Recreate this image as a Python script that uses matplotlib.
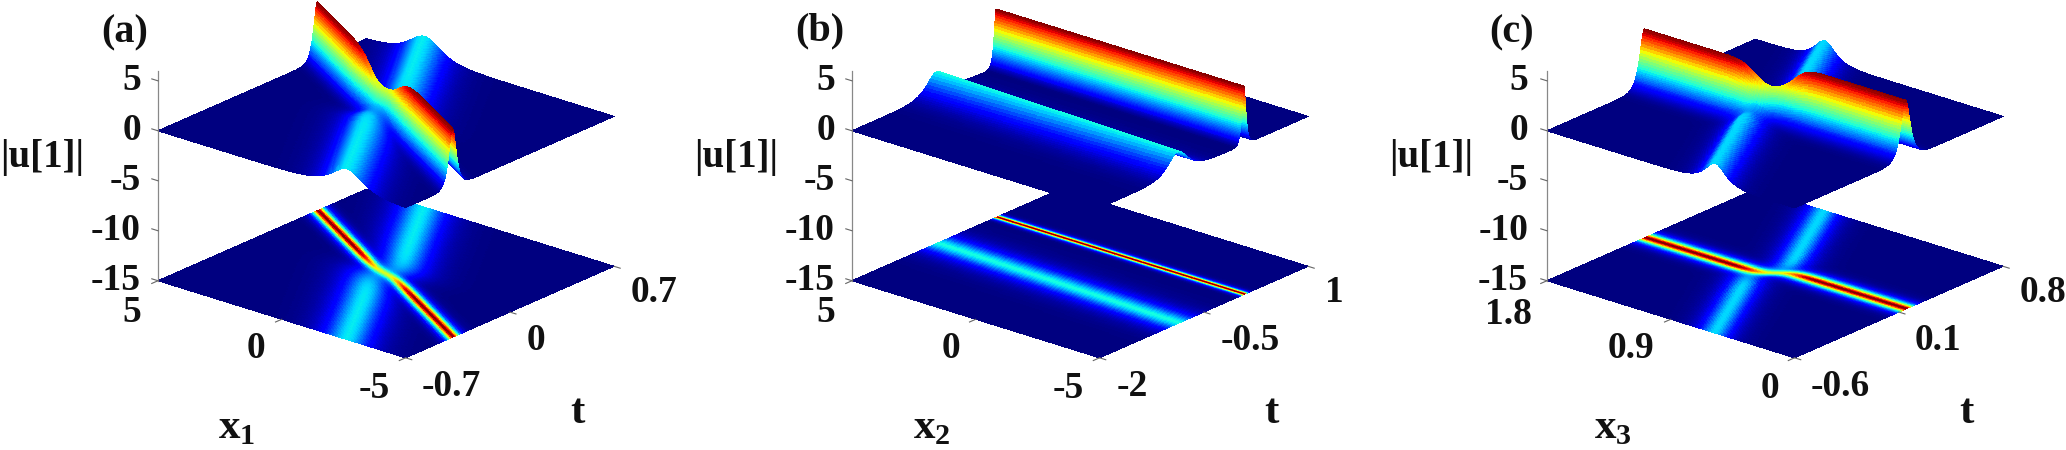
import numpy as np
import matplotlib
matplotlib.use("Agg")
import matplotlib.pyplot as plt
from mpl_toolkits.mplot3d import proj3d

plt.rcParams['font.family'] = ['Liberation Serif', 'DejaVu Serif']
plt.rcParams['font.weight'] = 'bold'
plt.rcParams['mathtext.fontset'] = 'custom'
plt.rcParams['mathtext.bf'] = 'Liberation Serif:bold'
plt.rcParams['mathtext.rm'] = 'Liberation Serif:bold'

W, H = 2066, 450

# ---- values ----
panel_letters = ['(a)', '(b)', '(c)']
x_names = ['x', 'x', 'x']
x_subs = ['1', '2', '3']
x_ranges = [(-5, 5), (-5, 5), (0, 1.8)]
t_ranges = [(-0.7, 0.7), (-2, 1), (-0.6, 0.8)]
x_ticks = [[5, 0, -5], [5, 0, -5], [1.8, 0.9, 0]]
x_ticklabels = [['5', '0', '-5'], ['5', '0', '-5'], ['1.8', '0.9', '0']]
t_ticks = [[-0.7, 0, 0.7], [-2, -0.5, 1], [-0.6, 0.1, 0.8]]
t_ticklabels = [['-0.7', '0', '0.7'], ['-2', '-0.5', '1'], ['-0.6', '0.1', '0.8']]
z_ticks = [5, 0, -5, -10, -15]
z_ticklabels = ['5', '0', '-5', '-10', '-15']
z_limits = (-15, 6)

# tall ridge across x: amplitude, t-position at mid x, slope, step, step width, width, dip, dip width
tall_amp = [5.9, 5.85, 5.9]
tall_pos = [0.495, 0.692, 0.5]
tall_slope = [0.57, 0.0, 0.0]
tall_step = [-0.015, 0.0, -0.032]
tall_step_w = [0.05, 0.05, 0.04]
tall_width = [0.016, 0.0085, 0.02]
tall_dip = [0.43, 0.0, 0.41]
tall_dip_w = [0.11, 0.08, 0.07]

# lower ridge: amplitude, position at mid range, slope, step, step width, width (panel b runs across x)
low_amp = [2.1, 2.2, 2.0]
low_pos = [0.50, 0.39, 0.52]
low_slope = [0.62, 0.03, 0.52]
low_step = [-0.045, 0.0, -0.06]
low_step_w = [0.05, 0.05, 0.04]
low_width = [0.055, 0.04, 0.036]
low_dip = [0.35, 0.0, 0.35]
low_across_x = [False, True, False]

grid_x = [140, 30, 140]
grid_t = [260, 260, 260]

# ---- pixel layout ----
corner_L = [(158, 281), (852, 281), (1547, 281)]
corner_R = [(614, 266), (1308, 266), (2003, 266)]
letter_xy = [(125, 33), (820, 31), (1512, 33)]
ztick_right = [141, 835, 1528]
ylabel_xy = [(42, 157), (736, 157), (1431, 157)]
xtick_xy = [[(132, 312), (256, 348), (374, 388)],
            [(826, 312), (951, 348), (1068, 388)],
            [(1508, 315), (1631, 348), (1770, 388)]]
ttick_xy = [[(451, 386), (536, 340), (654, 293)],
            [(1132, 386), (1250, 340), (1334, 293)],
            [(1840, 386), (1938, 340), (2043, 293)]]
xlabel_xy = [(237, 428), (932, 428), (1613, 428)]
tlabel_xy = [(577, 413), (1271, 413), (1966, 413)]
TICK_FS = 27
LABEL_FS = 28
LETTER_FS = 29
ELEV, AZIM = 21.7, -49.9
BOX = (1, 1, 0.698)


def sech(v):
    return 1.0 / np.cosh(np.clip(v, -40, 40))


def tall_centre(i, xf):
    mid = xf - 0.5
    return tall_pos[i] + tall_slope[i] * mid + tall_step[i] * np.tanh(mid / tall_step_w[i])


def height(i, xf, tf):
    mid = xf - 0.5
    centre = tall_centre(i, xf)
    crossing = np.exp(-(mid / tall_dip_w[i]) ** 2)
    tall = tall_amp[i] * sech((tf - centre) / tall_width[i]) * (1 - tall_dip[i] * crossing)
    if low_across_x[i]:
        low_c = low_pos[i] + low_slope[i] * mid
        low = low_amp[i] * sech((tf - low_c) / low_width[i])
    else:
        tm = tf - 0.5
        low_c = low_pos[i] + low_slope[i] * tm + low_step[i] * np.tanh(tm / low_step_w[i])
        gap = np.exp(-((tf - centre) / 0.08) ** 2)
        low = low_amp[i] * sech((xf - low_c) / low_width[i]) * (1 - low_dip[i] * gap)
    return np.sqrt(tall ** 2 + low ** 2)


def mesh(i):
    """Sampling grid packed around the steep tall ridge, so its colours stay smooth."""
    xf = np.linspace(0, 1, grid_x[i])
    s = np.linspace(0, 1, grid_t[i])
    half = 5 * tall_width[i]
    TF = np.empty((s.size, xf.size))
    for j, v in enumerate(xf):
        c = tall_centre(i, v)
        TF[:, j] = np.interp(s, [0, 0.3, 0.7, 1], [0, c - half, c + half, 1])
    XF = np.tile(xf, (s.size, 1))
    return XF, TF


def fit_axes(ax, i):
    """Move the 3D axes so that the bottom plane corners land on the measured pixels."""
    xr, tr = x_ranges[i], t_ranges[i]
    for _ in range(3):
        ax.apply_aspect()
        M = ax.get_proj()
        px, py, _z = proj3d.proj_transform(np.array([xr[1], xr[0]], float),
                                           np.array([tr[0], tr[1]], float),
                                           np.array([z_limits[0]] * 2, float), M)
        d = ax.transData.transform(np.column_stack([px, py]))
        tL = np.array([corner_L[i][0], H - corner_L[i][1]], float)
        tR = np.array([corner_R[i][0], H - corner_R[i][1]], float)
        scale = np.linalg.norm(tR - tL) / np.linalg.norm(d[1] - d[0])
        pos = ax.get_position()
        side = pos.width * W * scale
        ctr = np.array([(pos.x0 + pos.width / 2) * W, (pos.y0 + pos.height / 2) * H])
        new_ctr = ctr + ((tL + tR) / 2 - (d[0] + d[1]) / 2) + ((d[0] + d[1]) / 2 - ctr) * (1 - scale)
        ax.set_position([(new_ctr[0] - side / 2) / W, (new_ctr[1] - side / 2) / H,
                         side / W, side / H])


def put(x, y, s, fs, ha='center', va='center'):
    fig.text(x / W, 1 - y / H, s, fontsize=fs, fontweight='bold', ha=ha, va=va, color='#111111')


fig = plt.figure(figsize=(W / 100, H / 100), dpi=100, facecolor='white')
cmap = plt.get_cmap('jet')

for i in range(3):
    side = 700
    cx = (corner_L[i][0] + corner_R[i][0]) / 2
    ax = fig.add_axes([(cx - side / 2) / W, 0.5 - side / 2 / H, side / W, side / H],
                      projection='3d', computed_zorder=False)
    ax.set_proj_type('ortho')
    ax.view_init(elev=ELEV, azim=AZIM)
    ax.set_box_aspect(BOX)
    xr, tr = x_ranges[i], t_ranges[i]
    ax.set_xlim(xr[1], xr[0])
    ax.set_ylim(tr[0], tr[1])
    ax.set_zlim(*z_limits)
    ax.set_axis_off()

    XF, TF = mesh(i)
    U = height(i, XF, TF)
    X = xr[0] + XF * (xr[1] - xr[0])
    T = tr[0] + TF * (tr[1] - tr[0])
    colours = cmap(U / U.max())

    floor = ax.plot_surface(X, T, np.full_like(U, z_limits[0]), facecolors=colours,
                            rcount=U.shape[0], ccount=U.shape[1], shade=False,
                            linewidth=0, antialiased=False, zorder=1)
    top = ax.plot_surface(X, T, U, facecolors=colours,
                          rcount=U.shape[0], ccount=U.shape[1], shade=False,
                          linewidth=0, antialiased=False, zorder=2)
    floor.set_clip_on(False)
    top.set_clip_on(False)

    # z axis line and short ticks
    dx = (xr[1] - xr[0]) * 0.025
    dt = (tr[1] - tr[0]) * 0.03
    ax.plot([xr[1], xr[1]], [tr[0], tr[0]], z_limits, color='#888888', lw=0.9, zorder=3)
    for z in z_ticks:
        ax.plot([xr[1], xr[1] + dx], [tr[0], tr[0]], [z, z], color='#666666', lw=0.8, zorder=3)
    for v in x_ticks[i]:
        ax.plot([v, v], [tr[0], tr[0] - dt], [z_limits[0]] * 2, color='#666666', lw=0.8, zorder=3)
    for v in t_ticks[i]:
        ax.plot([xr[0], xr[0] - dx], [v, v], [z_limits[0]] * 2, color='#666666', lw=0.8, zorder=3)

    fit_axes(ax, i)

    put(*letter_xy[i], panel_letters[i], LETTER_FS)
    for z, s in zip(z_ticks, z_ticklabels):
        put(ztick_right[i], 131 - 10 * z, s, TICK_FS, ha='right')
    put(*ylabel_xy[i], '|u[1]|', LABEL_FS)
    for (px, py), s in zip(xtick_xy[i], x_ticklabels[i]):
        put(px, py, s, TICK_FS)
    for (px, py), s in zip(ttick_xy[i], t_ticklabels[i]):
        put(px, py, s, TICK_FS)
    put(*xlabel_xy[i], r'$\mathbf{%s}_{\mathbf{%s}}$' % (x_names[i], x_subs[i]), LABEL_FS + 3)
    put(*tlabel_xy[i], 't', LABEL_FS + 3)

fig.savefig('out.png', dpi=100, facecolor='white')
